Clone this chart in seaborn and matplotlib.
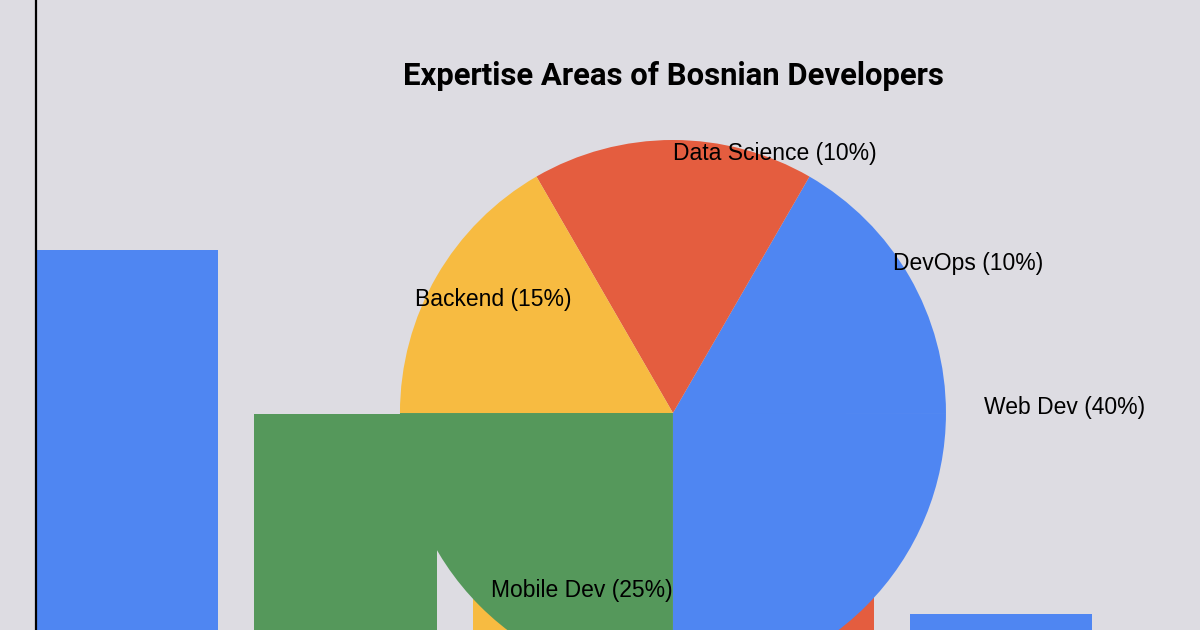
import matplotlib
matplotlib.use("Agg")
import matplotlib.pyplot as plt
import seaborn as sns
import numpy as np

# ---- data ----
categories = ["Web Dev", "Mobile Dev", "Backend", "Data Science", "DevOps"]
percent_labels = [40, 25, 15, 10, 10]
# bar heights as they appear in the picture (Backend / Data Science mostly hidden)
bar_values = [40, 26.5, 15, 12, 10]
# pie wedge shares as drawn in the picture (counter-clockwise from the bottom)
pie_order = ["Web Dev", "DevOps", "Data Science", "Backend", "Mobile Dev"]
pie_values = [25, 16.67, 16.67, 16.67, 25]

title = "Expertise Areas of Bosnian Developers"

# ---- style ----
BG = "#DDDCE2"
BLUE, GREEN, YELLOW, RED = "#4F86F2", "#55985B", "#F7BB41", "#E45D3F"
color_map = {"Web Dev": BLUE, "Mobile Dev": GREEN, "Backend": YELLOW,
             "Data Science": RED, "DevOps": BLUE}

sns.set_theme(style="white", rc={"axes.facecolor": BG, "figure.facecolor": BG})
plt.rcParams["font.family"] = ["Liberation Sans", "DejaVu Sans"]

fig = plt.figure(figsize=(12, 6.3), dpi=100)

# ---- bar layer ----
ax_bar = fig.add_axes([0.03, -0.1667, 0.88, 1.1667])
sns.barplot(x=categories, y=bar_values, hue=categories,
            palette=[color_map[c] for c in categories],
            width=0.833, legend=False, ax=ax_bar, saturation=1,
            linewidth=0, edgecolor="none")
ax_bar.set_xlim(-0.4165, 4.4165)
ax_bar.set_ylim(0, 60.66)
ax_bar.set_xlabel("")
ax_bar.set_ylabel("")
ax_bar.set_xticks([])
ax_bar.set_yticks([])
for side in ["top", "right", "bottom"]:
    ax_bar.spines[side].set_visible(False)
ax_bar.spines["left"].set_color("black")
ax_bar.spines["left"].set_linewidth(1.6)

# ---- pie layer ----
ax_pie = fig.add_axes([0.3333, -0.0889, 0.455, 0.8667])
ax_pie.pie(pie_values, colors=[color_map[c] for c in pie_order],
           startangle=-90, counterclock=True, radius=1,
           wedgeprops=dict(linewidth=0))
ax_pie.set_xlim(-1, 1)
ax_pie.set_ylim(-1, 1)
ax_pie.set_aspect("equal")

# label placement (angle in degrees, distance in radii)
label_layout = {
    "Web Dev": (1.5, 1.14),
    "DevOps": (34.8, 0.98),
    "Data Science": (90.0, 0.96),
    "Backend": (131.0, 0.565),
    "Mobile Dev": (270.0, 0.64),
}
y_shift = -0.011
pct = dict(zip(categories, percent_labels))
for name in pie_order:
    ang, dist = label_layout[name]
    x = dist * np.cos(np.radians(ang))
    y = dist * np.sin(np.radians(ang)) + y_shift
    ha = "left" if x > 0 else "right"
    ax_pie.text(x, y, f"{name} ({pct[name]}%)", ha=ha, va="center",
                fontsize=16.5, color="black", clip_on=False)

fig.text(0.561, 1 - 76 / 630, title, ha="center", va="center",
         fontsize=22.4, fontweight="bold", color="black",
         family=["Roboto", "DejaVu Sans"])

fig.savefig("out.png", dpi=100, facecolor=BG)
